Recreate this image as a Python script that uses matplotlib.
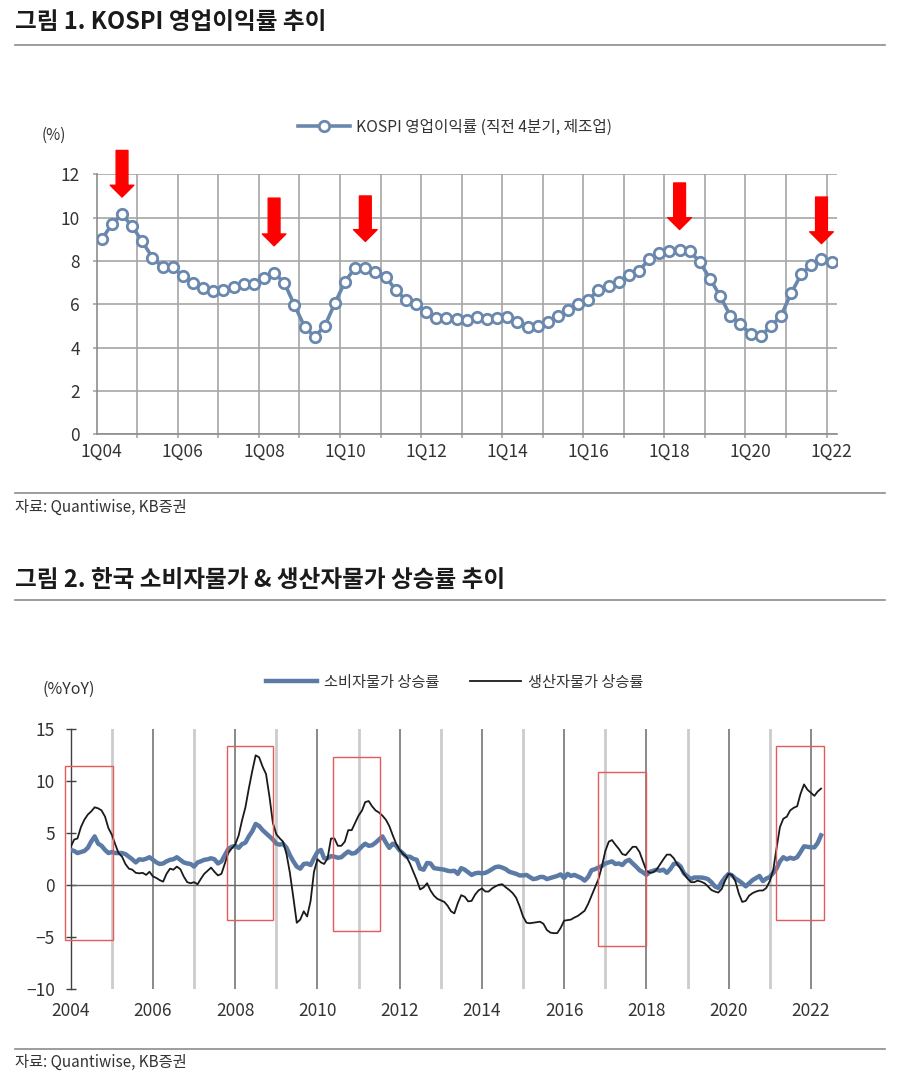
import matplotlib
matplotlib.use("Agg")
import matplotlib.pyplot as plt
import matplotlib.dates as mdates
from matplotlib.lines import Line2D
from matplotlib.patches import Rectangle
import pandas as pd

plt.rcParams['font.family'] = ['Noto Sans CJK KR', 'DejaVu Sans']
plt.rcParams['axes.unicode_minus'] = True

# ---- chart 1: KOSPI operating margin (quarterly, 1Q04 ~ 1Q22)
quarters = [f"{q}Q{y:02d}" for y in range(4, 23) for q in range(1, 5)][:73]
margin = [9.0, 9.7, 10.15, 9.6, 8.9, 8.15, 7.72, 7.72, 7.3, 7.0, 6.75, 6.6,
          6.65, 6.8, 6.95, 6.95, 7.23, 7.45, 7.0, 5.97, 4.97, 4.5, 5.0, 6.05,
          7.05, 7.69, 7.68, 7.49, 7.28, 6.66, 6.2, 6.0, 5.66, 5.38, 5.38, 5.31,
          5.27, 5.42, 5.32, 5.37, 5.42, 5.2, 4.95, 4.98, 5.2, 5.46, 5.74, 6.03,
          6.22, 6.65, 6.85, 7.05, 7.35, 7.54, 8.09, 8.35, 8.48, 8.52, 8.46, 7.95,
          7.18, 6.38, 5.48, 5.09, 4.63, 4.54, 4.98, 5.46, 6.51, 7.38, 7.82, 8.09,
          7.97]
quarter_labels = ['1Q04', '1Q06', '1Q08', '1Q10', '1Q12', '1Q14', '1Q16', '1Q18', '1Q20', '1Q22']
arrow_at = ['3Q04', '2Q08', '3Q10', '2Q18', '4Q21']
arrow_top = [13.1, 10.9, 11.0, 11.6, 10.95]
arrow_tip = [10.95, 8.7, 8.9, 9.45, 8.8]

# ---- chart 2: CPI & PPI YoY (monthly, 2004.01 ~ 2022.04)
months = pd.date_range('2004-01-01', periods=220, freq='MS')
cpi = [3.4, 3.3, 3.1, 3.2, 3.3, 3.6, 4.2, 4.7, 4.0, 3.8, 3.4, 3.1,
       3.2, 3.1, 3.1, 3.1, 3.0, 2.75, 2.5, 2.2, 2.5, 2.45, 2.55, 2.7,
       2.45, 2.2, 2.05, 2.1, 2.3, 2.45, 2.5, 2.7, 2.45, 2.2, 2.1, 2.05,
       1.8, 2.2, 2.3, 2.45, 2.5, 2.6, 2.5, 2.1, 2.3, 2.9, 3.5, 3.7,
       3.8, 3.6, 3.95, 4.1, 4.7, 5.2, 5.9, 5.7, 5.3, 5.0, 4.7, 4.4,
       4.0, 3.9, 4.0, 3.6, 2.9, 2.3, 1.8, 1.6, 2.05, 2.1, 1.95, 2.6,
       3.2, 3.4, 2.6, 2.6, 2.8, 2.75, 2.65, 2.7, 3.0, 3.25, 3.05, 3.1,
       3.4, 3.75, 4.0, 3.8, 3.85, 4.1, 4.4, 4.7, 4.1, 3.6, 4.0, 3.8,
       3.35, 3.05, 2.75, 2.75, 2.55, 2.45, 1.6, 1.5, 2.15, 2.1, 1.65, 1.6,
       1.55, 1.5, 1.4, 1.35, 1.4, 1.1, 1.65, 1.5, 1.25, 1.0, 1.15, 1.2,
       1.15, 1.2, 1.35, 1.55, 1.75, 1.8, 1.7, 1.55, 1.3, 1.2, 1.1, 0.95,
       0.95, 1.0, 0.8, 0.6, 0.65, 0.8, 0.8, 0.6, 0.7, 0.8, 0.9, 1.05,
       0.7, 1.1, 0.9, 1.0, 0.85, 0.7, 0.45, 0.8, 1.45, 1.55, 1.7, 1.85,
       2.1, 2.2, 2.3, 2.05, 2.1, 1.95, 2.3, 2.45, 2.1, 1.8, 1.45, 1.25,
       1.0, 1.3, 1.4, 1.5, 1.4, 1.5, 1.2, 1.55, 2.05, 2.1, 1.8, 1.15,
       0.85, 0.6, 0.75, 0.75, 0.75, 0.7, 0.6, 0.3, -0.1, -0.25, 0.3, 0.75,
       1.1, 0.95, 0.65, 0.45, 0.2, -0.1, 0.2, 0.5, 0.7, 0.9, 0.4, 0.65,
       0.8, 1.2, 1.6, 2.3, 2.7, 2.5, 2.65, 2.55, 2.7, 3.2, 3.75, 3.7,
       3.65, 3.65, 4.05, 4.8]
ppi = [3.7, 4.4, 4.5, 5.6, 6.3, 6.8, 7.1, 7.5, 7.4, 7.2, 6.6, 5.5,
       4.85, 3.9, 3.1, 2.75, 2.05, 1.6, 1.5, 1.2, 1.15, 1.2, 1.0, 1.3,
       0.85, 0.7, 0.5, 0.35, 1.1, 1.6, 1.5, 1.8, 1.55, 0.85, 0.3, 0.2,
       0.3, 0.1, 0.6, 1.1, 1.4, 1.7, 1.3, 0.95, 1.1, 2.1, 3.1, 3.55,
       3.9, 4.8, 6.2, 7.5, 9.3, 11.0, 12.5, 12.3, 11.4, 10.7, 8.5, 6.0,
       4.9, 4.5, 4.2, 3.0, 1.2, -1.2, -3.6, -3.3, -2.5, -3.0, -1.5, 1.3,
       2.5, 2.2, 2.05, 2.6, 4.5, 4.5, 3.8, 3.8, 4.2, 5.3, 5.3, 6.0,
       6.7, 7.2, 8.0, 8.1, 7.6, 7.2, 7.0, 6.7, 6.3, 5.7, 4.8, 4.0,
       3.4, 3.0, 2.75, 2.1, 1.3, 0.5, -0.4, -0.2, 0.2, -0.5, -1.0, -1.3,
       -1.45, -1.6, -1.95, -2.5, -2.7, -1.7, -0.95, -1.1, -1.55, -1.5, -0.9, -0.5,
       -0.3, -0.6, -0.6, -0.3, -0.1, 0.05, 0.1, -0.2, -0.45, -0.75, -1.2, -2.0,
       -3.0, -3.6, -3.65, -3.6, -3.55, -3.5, -3.7, -4.3, -4.55, -4.6, -4.6, -4.1,
       -3.4, -3.35, -3.3, -3.1, -2.95, -2.7, -2.45, -1.8, -1.0, -0.2, 0.6, 1.8,
       3.3, 4.2, 4.35, 3.9, 3.5, 3.0, 2.9, 3.3, 3.7, 3.7, 3.2, 2.3,
       1.4, 1.2, 1.25, 1.5, 2.0, 2.5, 2.95, 2.95, 2.6, 2.05, 1.6, 1.1,
       0.65, 0.3, 0.3, 0.45, 0.35, 0.2, -0.1, -0.45, -0.6, -0.7, -0.35, 0.45,
       1.1, 1.0, 0.4, -0.8, -1.6, -1.5, -1.0, -0.75, -0.6, -0.5, -0.5, -0.25,
       0.4, 1.5, 3.5, 5.6, 6.4, 6.6, 7.2, 7.45, 7.6, 8.8, 9.7, 9.2,
       8.9, 8.6, 9.0, 9.3]
box_start = ['2003-11-15', '2007-10-20', '2010-05-15', '2016-10-27', '2021-03-01']
box_end = ['2005-01-15', '2008-12-05', '2011-07-12', '2017-12-25', '2022-04-25']
box_low = [-5.3, -3.35, -4.4, -5.8, -3.35]
box_high = [11.5, 13.4, 12.3, 10.9, 13.4]

W, H = 900, 1084
fig = plt.figure(figsize=(W / 100, H / 100), dpi=100)


def fx(px):
    return px / W


def fy(py):
    return 1 - py / H


text_c = '#333333'
rule_c = '#8c8c8c'
tick_fs = 12.5

# headers, rules, sources
fig.text(fx(15), fy(22), '그림 1. KOSPI 영업이익률 추이', fontsize=17, fontweight='bold',
         va='center', ha='left', color='#1a1a1a')
fig.text(fx(15), fy(580), '그림 2. 한국 소비자물가 & 생산자물가 상승률 추이', fontsize=17,
         fontweight='bold', va='center', ha='left', color='#1a1a1a')
for ypx in [45, 493, 600, 1049]:
    fig.add_artist(Line2D([fx(15), fx(885)], [fy(ypx), fy(ypx)], color=rule_c, lw=1.2))
for ypx in [507, 1062]:
    fig.text(fx(15), fy(ypx), '자료: Quantiwise, KB증권', fontsize=11, va='center',
             ha='left', color=text_c)

# ---------------- chart 1
ax1 = fig.add_axes([fx(96.7), fy(434.3), fx(836.7) - fx(96.7), fy(174.3) - fy(434.3)])
grid_c = '#a6a6a6'
line_c = '#6a88ad'
x = list(range(len(margin)))
ax1.plot(x, margin, color=line_c, lw=2.6, marker='o', markersize=7.5,
         markerfacecolor='white', markeredgecolor=line_c, markeredgewidth=2.0,
         label='KOSPI 영업이익률 (직전 4분기, 제조업)', zorder=3)
ax1.set_xlim(-0.5, len(margin) - 0.5)
ax1.set_ylim(0, 12)
ax1.set_yticks(range(0, 13, 2))
ax1.set_xticks([i + 3.5 for i in range(0, 72, 4)])
ax1.set_xticklabels([])
ax1.set_xticks([quarters.index(q) for q in quarter_labels], minor=True)
ax1.set_xticklabels(quarter_labels, minor=True)
ax1.grid(True, which='major', color=grid_c, lw=1.2)
ax1.set_axisbelow(True)
for s in ['top', 'right']:
    ax1.spines[s].set_visible(False)
for s in ['left', 'bottom']:
    ax1.spines[s].set_color('#8c8c8c')
    ax1.spines[s].set_linewidth(1.2)
ax1.tick_params(axis='both', which='major', length=3, color=grid_c, width=1.2,
                labelsize=tick_fs, labelcolor=text_c)
ax1.tick_params(axis='y', pad=9)
ax1.tick_params(axis='x', which='minor', length=0, pad=6, labelsize=tick_fs, labelcolor=text_c)
for q, top, tip in zip(arrow_at, arrow_top, arrow_tip):
    i = quarters.index(q)
    ax1.annotate('', xy=(i, tip), xytext=(i, top), annotation_clip=False,
                 arrowprops=dict(arrowstyle='simple,head_length=0.85,head_width=1.7,tail_width=0.85',
                                 mutation_scale=10, color='#ff0000', shrinkA=0, shrinkB=0,
                                 clip_on=False))
fig.legend(handles=ax1.get_lines(), loc='center', bbox_to_anchor=(fx(455), fy(127)),
           frameon=False, fontsize=11.3, handlelength=3.3, handletextpad=0.4,
           labelcolor=text_c)
fig.text(fx(42), fy(135), '(%)', fontsize=11, va='center', ha='left', color=text_c)

# ---------------- chart 2
ax2 = fig.add_axes([fx(70.7), fy(989.3), fx(824.4) - fx(70.7), fy(729.3) - fy(989.3)])
ax2.plot(months, cpi, color='#5b7ba6', lw=3.2, label='소비자물가 상승률', zorder=3)
ax2.plot(months, ppi, color='#1a1a1a', lw=1.3, label='생산자물가 상승률', zorder=4)
ax2.axhline(0, color='#666666', lw=1.0, zorder=2)
ax2.set_xlim(pd.Timestamp('2004-01-01'), pd.Timestamp('2022-05-01'))
ax2.set_ylim(-10, 15)
ax2.set_yticks(range(-10, 16, 5))
ax2.xaxis.set_major_locator(mdates.YearLocator(2))
ax2.xaxis.set_minor_locator(mdates.YearLocator(1))
ax2.xaxis.set_major_formatter(mdates.DateFormatter('%Y'))
ax2.grid(True, axis='x', which='major', color='#808080', lw=1.3)
ax2.grid(True, axis='x', which='minor', color='#cccccc', lw=2.0)
ax2.set_axisbelow(True)
for s in ['top', 'right', 'bottom']:
    ax2.spines[s].set_visible(False)
ax2.spines['left'].set_color('#404040')
ax2.spines['left'].set_linewidth(1.0)
ax2.tick_params(axis='y', direction='inout', length=7, width=1.0, color='#404040',
                pad=8, labelsize=tick_fs, labelcolor=text_c)
ax2.tick_params(axis='x', which='both', length=0, pad=9, labelsize=tick_fs, labelcolor=text_c)
for a, b, lo, hi in zip(box_start, box_end, box_low, box_high):
    x0 = mdates.date2num(pd.Timestamp(a))
    x1 = mdates.date2num(pd.Timestamp(b))
    ax2.add_patch(Rectangle((x0, lo), x1 - x0, hi - lo, fill=False, edgecolor='#e35b5b',
                            lw=1.0, clip_on=False, zorder=5))
fig.legend(handles=ax2.get_lines()[:2], loc='center', bbox_to_anchor=(fx(455), fy(682)),
           ncol=2, frameon=False, fontsize=11, handlelength=3.3, handletextpad=0.5,
           columnspacing=2.0, labelcolor=text_c)
fig.text(fx(42), fy(689), '(%YoY)', fontsize=11.5, va='center', ha='left', color=text_c)

fig.savefig('out.png', dpi=100)
